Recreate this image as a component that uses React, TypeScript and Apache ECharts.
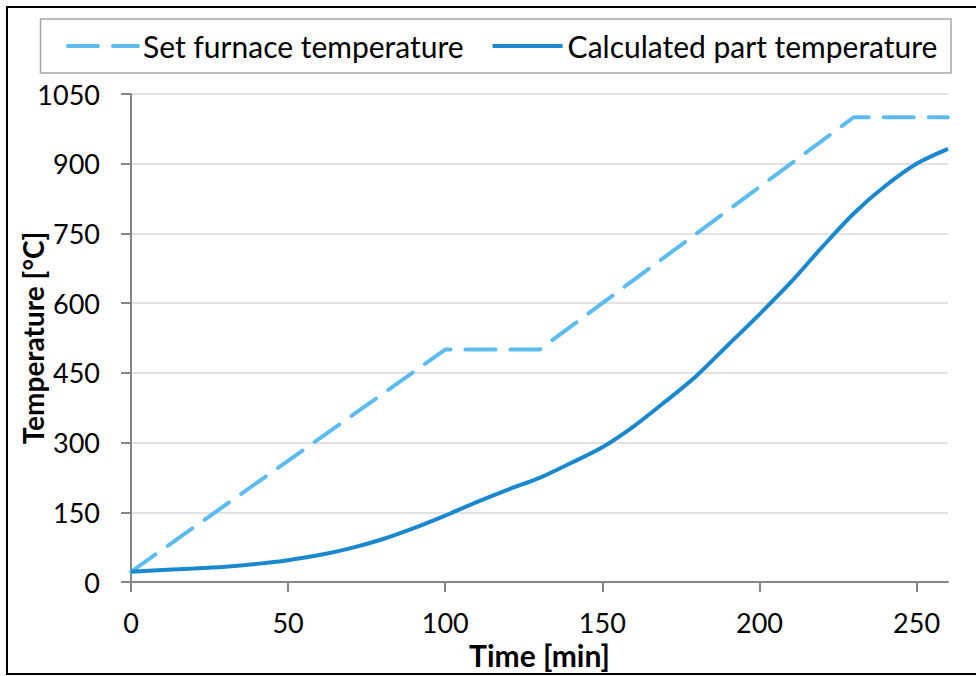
import React, { useEffect, useRef } from "react";
import * as echarts from "echarts";

const partTimes = [0, 10, 20, 30, 40, 50, 60, 70, 80, 90, 100, 110, 120, 130, 140, 150, 160, 170, 180, 190, 200, 210, 220, 230, 240, 250, 260];
const partTemps = [22, 26, 29, 33, 39, 47, 58, 73, 92, 116, 143, 172, 199, 224, 256, 290, 335, 388, 444, 510, 576, 645, 721, 793, 852, 900, 932];
const setTimes = [0, 100, 130, 230, 260];
const setTemps = [22, 500, 500, 1000, 1000];
const xTickValues = [0, 50, 100, 150, 200, 250];
const yTickValues = [0, 150, 300, 450, 600, 750, 900, 1050];
const seriesNames = ["Set furnace temperature", "Calculated part temperature"];

const FONT = "Lato, 'Open Sans', sans-serif";
const SET_COLOR = "#5DBCEF";
const PART_COLOR = "#1A88CE";
const DASH = [30, 15];

export default function App() {
  const ref = useRef<HTMLDivElement>(null);
  useEffect(() => {
    if (!ref.current) return;
    const chart = echarts.init(ref.current, undefined, { renderer: "svg" });
    const setData = setTimes.map((t, i) => [t, setTemps[i]]);
    const partData = partTimes.map((t, i) => [t, partTemps[i]]);
    chart.setOption({
      animation: false,
      backgroundColor: "#ffffff",
      textStyle: { fontFamily: FONT },
      graphic: [
        {
          type: "rect",
          shape: { x: 7, y: 7, width: 980, height: 667 },
          style: { fill: "none", stroke: "#000000", lineWidth: 2 },
          silent: true,
        },
        {
          type: "rect",
          shape: { x: 40.5, y: 19, width: 910.5, height: 54 },
          style: { fill: "none", stroke: "#a6a6a6", lineWidth: 1.5 },
          silent: true,
        },
      ],
      legend: {
        data: [
          { name: seriesNames[0], lineStyle: { type: DASH, width: 4, color: SET_COLOR, cap: "round" } },
          { name: seriesNames[1], lineStyle: { type: "solid", width: 4, color: PART_COLOR } },
        ],
        left: 66,
        top: 31,
        padding: 0,
        itemWidth: 70,
        itemHeight: 14,
        itemGap: 27,
        itemStyle: { opacity: 0 },
        lineStyle: { width: 4 },
        textStyle: { fontFamily: FONT, fontSize: 30, color: "#000000" },
      },
      grid: { left: 131, right: 28, top: 94, bottom: 94, containLabel: false, outerBoundsMode: "none" },
      xAxis: {
        type: "value",
        min: 0,
        max: 260,
        interval: 50,
        name: "Time [min]",
        nameLocation: "middle",
        nameGap: 58,
        nameMoveOverlap: false,
        nameTextStyle: { fontFamily: FONT, fontSize: 30, fontWeight: "bold", color: "#000000" },
        axisLine: { show: true, lineStyle: { color: "#868686", width: 2 } },
        axisTick: { show: true, length: 10, lineStyle: { color: "#868686", width: 2 }, customValues: xTickValues },
        axisLabel: { fontFamily: FONT, fontSize: 27, color: "#000000", margin: 27, customValues: xTickValues, formatter: (v: number) => String(v) },
        splitLine: { show: false },
      },
      yAxis: {
        type: "value",
        min: 0,
        max: 1050,
        interval: 150,
        name: "Temperature [°C]",
        nameLocation: "middle",
        nameGap: 84,
        nameMoveOverlap: false,
        nameTextStyle: { fontFamily: FONT, fontSize: 28, fontWeight: "bold", color: "#000000" },
        axisLine: { show: true, lineStyle: { color: "#868686", width: 2 } },
        axisTick: { show: true, length: 10, lineStyle: { color: "#868686", width: 2 }, customValues: yTickValues },
        axisLabel: { fontFamily: FONT, fontSize: 27, color: "#000000", margin: 31, customValues: yTickValues, formatter: (v: number) => String(v) },
        splitLine: { show: true, lineStyle: { color: "#d9d9d9", width: 1.5 } },
      },
      series: [
        {
          name: seriesNames[0],
          type: "line",
          data: setData,
          symbol: "none",
          smooth: false,
          lineStyle: { color: SET_COLOR, width: 4, type: DASH, cap: "round" },
          itemStyle: { color: SET_COLOR },
          z: 2,
        },
        {
          name: seriesNames[1],
          type: "line",
          data: partData,
          symbol: "none",
          smooth: 0.3,
          lineStyle: { color: PART_COLOR, width: 4 },
          itemStyle: { color: PART_COLOR },
          z: 3,
        },
      ],
    });
    return () => chart.dispose();
  }, []);
  return <div ref={ref} style={{ position: "fixed", left: 0, top: 0, width: 976, height: 676 }} />;
}
